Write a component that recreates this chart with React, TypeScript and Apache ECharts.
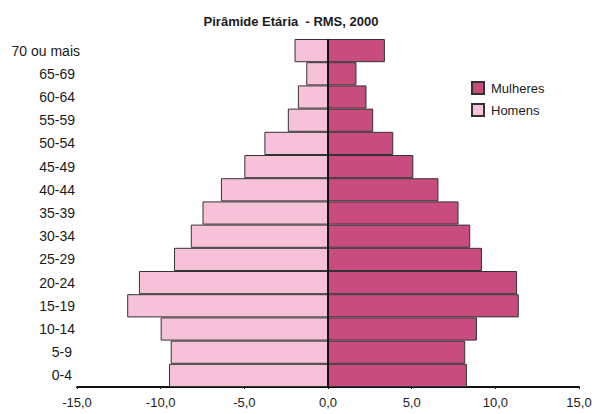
import React, { useEffect, useRef } from "react";
import * as echarts from "echarts";

const categories = ["0-4", "5-9", "10-14", "15-19", "20-24", "25-29", "30-34", "35-39", "40-44", "45-49", "50-54", "55-59", "60-64", "65-69", "70 ou mais"];
const homens = [9.5, 9.4, 10.0, 12.0, 11.3, 9.2, 8.2, 7.5, 6.4, 5.0, 3.8, 2.4, 1.8, 1.3, 2.0];
const mulheres = [8.3, 8.2, 8.9, 11.4, 11.3, 9.2, 8.5, 7.8, 6.6, 5.1, 3.9, 2.7, 2.3, 1.7, 3.4];
const xTicks = { min: -15, max: 15, interval: 5 };
const title = "Pirâmide Etária  - RMS, 2000";

const FONT = "'Liberation Sans', Arial, sans-serif";

export default function App() {
  const ref = useRef<HTMLDivElement>(null);
  useEffect(() => {
    if (!ref.current) return;
    const chart = echarts.init(ref.current, undefined, { renderer: "svg" });
    const labelStyle = { fontFamily: FONT, fontSize: 14, color: "#1a1a1a" };
    chart.setOption({
      animation: false,
      backgroundColor: "#ffffff",
      title: {
        text: title,
        left: 286,
        textAlign: "center",
        top: 10,
        textStyle: { fontFamily: FONT, fontSize: 13, fontWeight: "bold", color: "#1a1a1a" },
      },
      legend: {
        orient: "vertical",
        left: 466,
        top: 76,
        itemWidth: 12,
        itemHeight: 12,
        itemGap: 8,
        icon: "rect",
        data: ["Mulheres", "Homens"],
        textStyle: { fontFamily: FONT, fontSize: 13, color: "#1a1a1a", padding: [0, 0, 0, 2] },
      },
      grid: { left: 77, right: 17, top: 39, bottom: 27, containLabel: false },
      xAxis: {
        type: "value",
        min: xTicks.min,
        max: xTicks.max,
        interval: xTicks.interval,
        splitLine: { show: false },
        axisLine: { show: true, onZero: false, lineStyle: { color: "#111", width: 2 } },
        axisTick: { show: true, length: 2, lineStyle: { color: "#111" } },
        axisLabel: {
          fontFamily: FONT,
          fontSize: 13,
          color: "#1a1a1a",
          margin: 9,
          formatter: (v: number) => v.toFixed(1).replace(".", ","),
        },
      },
      yAxis: {
        type: "category",
        data: categories,
        axisLine: { show: false, onZero: false },
        axisTick: { show: false },
        axisLabel: {
          align: "right",
          margin: -3,
          formatter: (v: string) => (v.length > 5 ? `{l|${v}}` : v.length > 3 ? `{m|${v}}` : `{s|${v}}`),
          rich: {
            l: { ...labelStyle },
            m: { ...labelStyle, padding: [0, 5, 0, 0] },
            s: { ...labelStyle, padding: [0, 8, 0, 0] },
          },
        },
      },
      series: [
        {
          name: "Mulheres",
          type: "bar",
          stack: "p",
          data: mulheres,
          barCategoryGap: "0%",
          itemStyle: { color: "#C94C7E", borderColor: "#333", borderWidth: 1 },
          markLine: {
            silent: true,
            symbol: "none",
            label: { show: false },
            lineStyle: { color: "#111", width: 2, type: "solid" },
            data: [{ xAxis: 0 }],
          },
        },
        {
          name: "Homens",
          type: "bar",
          stack: "p",
          data: homens.map((v) => -v),
          barCategoryGap: "0%",
          itemStyle: { color: "#F6C1D9", borderColor: "#333", borderWidth: 1 },
        },
      ],
    });
    return () => chart.dispose();
  }, []);
  return <div ref={ref} style={{ position: "fixed", left: 0, top: 0, width: 596, height: 414 }} />;
}
